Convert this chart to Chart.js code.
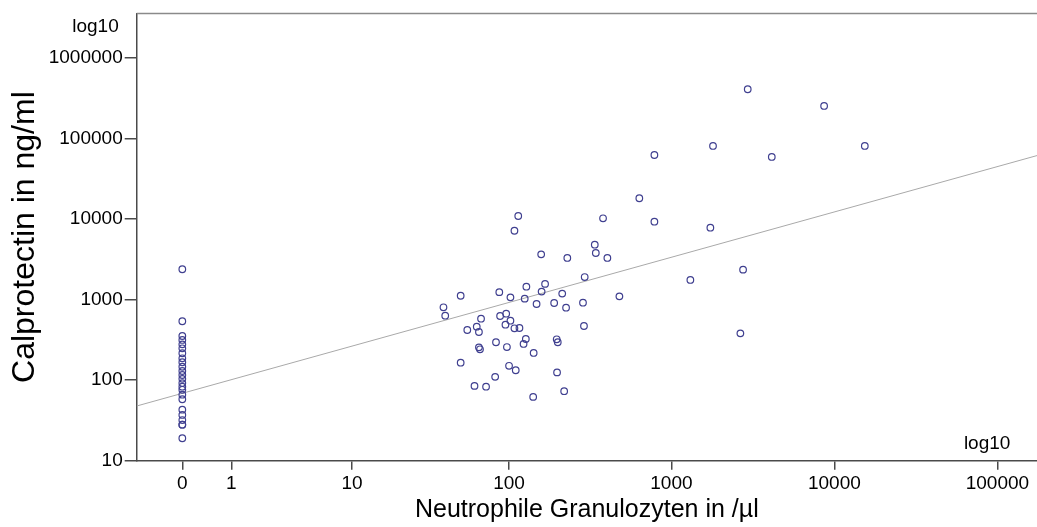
<!DOCTYPE html>
<html lang="de">
<head>
    <meta charset="UTF-8">
    <title>Calprotectin vs. Neutrophile Granulozyten</title>
    <script src="https://cdn.jsdelivr.net/npm/chart.js"></script>
    <style>
        body { margin: 0; background: #fff; overflow: hidden; }
        #wrap { width: 1037px; height: 527px; }
        canvas { display: block; }
    </style>
</head>
<body>
<div id="wrap"><canvas id="calproChart" width="1037" height="527"></canvas></div>
<script>
    // Neutrophile Granulozyten (/µl) and Calprotectin (ng/ml), one entry per sample
    const granulozyten = [
        0, 0, 0, 0, 0, 0, 0, 0, 0, 0, 0, 0, 0, 0, 0, 0, 0, 0, 0, 0, 0, 0, 0, 0,
        114, 108, 50, 87, 102, 128, 125, 39, 40, 67, 88, 96, 102, 95, 108, 116,
        55, 63, 65, 127, 123, 83, 97, 65, 66, 50, 100, 110, 82, 61, 72,
        380, 338, 343, 404, 158, 229, 293, 167, 159, 213, 148, 190, 225, 286,
        479, 290, 197, 200, 142, 198, 219, 141,
        2940, 1800, 786, 635, 786, 1734, 1307, 2753, 2650, 8650, 4130, 15370
    ];
    const calprotectin = [
        2390, 540, 354, 316, 279, 249, 216, 187, 167, 147, 130, 116, 104, 92, 83, 76, 66, 58, 43, 37, 32, 28, 28, 19,
        10960, 7190, 1120, 1240, 1070, 1450, 1030, 805, 633, 581, 627, 670, 548, 489, 441, 445,
        420, 462, 397, 325, 282, 296, 258, 256, 242, 165, 151, 133, 110, 85, 83,
        10260, 4820, 3800, 3300, 3660, 3300, 1910, 1570, 1260, 1190, 884, 910, 795, 918,
        1100, 471, 322, 296, 218, 125, 73, 62,
        411000, 81200, 62700, 18200, 9310, 7840, 1760, 2360, 382, 255000, 59300, 81200
    ];

    // axis ticks
    const xTickValues = [0, 1, 10, 100, 1000, 10000, 100000];
    const yTickValues = [10, 100, 1000, 10000, 100000, 1000000];

    // visible axis range
    const xMin = -0.475, xMax = 175000;
    const yMin = 10, yMax = 3590000;

    // regression line, read at the left and right edge of the plot
    const fitX = [-0.475, 175000];
    const fitY = [47.8, 61700];

    // x axis is log10(x + 1) so that the zero values can be shown
    const lg1 = v => Math.log10(v + 1);

    const axisColor = '#4a4a4a';
    const fontFamily = '"Liberation Sans", Arial, Helvetica, sans-serif';

    const frameAndLabels = {
        id: 'frameAndLabels',
        afterDraw(chart) {
            const { ctx, chartArea } = chart;
            const xs = chart.scales.x, ys = chart.scales.y;
            ctx.save();
            // top frame line
            ctx.strokeStyle = '#8a8a8a';
            ctx.lineWidth = 1.5;
            ctx.beginPath();
            ctx.moveTo(chartArea.left, chartArea.top);
            ctx.lineTo(chartArea.right, chartArea.top);
            ctx.stroke();
            // "log10" markers
            ctx.fillStyle = '#000';
            ctx.font = '19px ' + fontFamily;
            ctx.textBaseline = 'middle';
            ctx.textAlign = 'right';
            ctx.fillText('log10', chartArea.left - 18, ys.getPixelForValue(1000000) - 31);
            ctx.fillText('log10', xs.getPixelForValue(lg1(100000)) + 13, chartArea.bottom - 17);
            ctx.restore();
        }
    };

    const ctx = document.getElementById('calproChart').getContext('2d');
    new Chart(ctx, {
        type: 'scatter',
        data: {
            datasets: [{
                label: 'Proben',
                data: granulozyten.map((g, i) => ({ x: lg1(g), y: calprotectin[i] })),
                pointStyle: 'circle',
                pointRadius: 3.3,
                pointBorderWidth: 1.2,
                pointBorderColor: '#404090',
                pointBackgroundColor: 'rgba(255,255,255,0)',
                order: 1
            }, {
                type: 'line',
                label: 'Regression',
                data: fitX.map((g, i) => ({ x: lg1(g), y: fitY[i] })),
                borderColor: '#a9a9a9',
                borderWidth: 1,
                pointRadius: 0,
                fill: false,
                order: 2
            }]
        },
        options: {
            responsive: false,
            animation: false,
            devicePixelRatio: 1,
            layout: {
                autoPadding: false,
                padding: { top: 13.5, left: 0, right: 0, bottom: 0 }
            },
            plugins: {
                legend: { display: false },
                tooltip: { enabled: false }
            },
            scales: {
                x: {
                    type: 'linear',
                    min: lg1(xMin),
                    max: lg1(xMax),
                    afterBuildTicks: scale => {
                        scale.ticks = xTickValues.map(v => ({ value: lg1(v) }));
                    },
                    afterFit: scale => {
                        scale.height = 66.3;
                        scale.paddingLeft = 0;
                        scale.paddingRight = 0;
                    },
                    ticks: {
                        autoSkip: false,
                        maxRotation: 0,
                        padding: 3,
                        color: '#000',
                        font: { family: fontFamily, size: 19 },
                        callback: (value, index) => String(xTickValues[index])
                    },
                    grid: { drawOnChartArea: false, drawTicks: true, tickLength: 9, color: axisColor, lineWidth: 1.5 },
                    border: { display: true, color: axisColor, width: 1.5 },
                    title: {
                        display: true,
                        text: 'Neutrophile Granulozyten in /µl',
                        color: '#000',
                        font: { family: fontFamily, size: 25 },
                        padding: { top: 0, bottom: 2 }
                    }
                },
                y: {
                    type: 'logarithmic',
                    min: yMin,
                    max: yMax,
                    afterBuildTicks: scale => {
                        scale.ticks = yTickValues.map(v => ({ value: v }));
                    },
                    afterFit: scale => {
                        scale.width = 136.7;
                        scale.paddingTop = 0;
                        scale.paddingBottom = 0;
                    },
                    ticks: {
                        autoSkip: false,
                        padding: 2,
                        color: '#000',
                        font: { family: fontFamily, size: 19 },
                        callback: value => String(value)
                    },
                    grid: { drawOnChartArea: false, drawTicks: true, tickLength: 12, color: axisColor, lineWidth: 1.5 },
                    border: { display: true, color: axisColor, width: 1.5 },
                    title: {
                        display: true,
                        text: 'Calprotectin in ng/ml',
                        color: '#000',
                        font: { family: fontFamily, size: 32 },
                        padding: { top: 6, bottom: 0 }
                    }
                }
            }
        },
        plugins: [frameAndLabels]
    });
</script>
</body>
</html>
